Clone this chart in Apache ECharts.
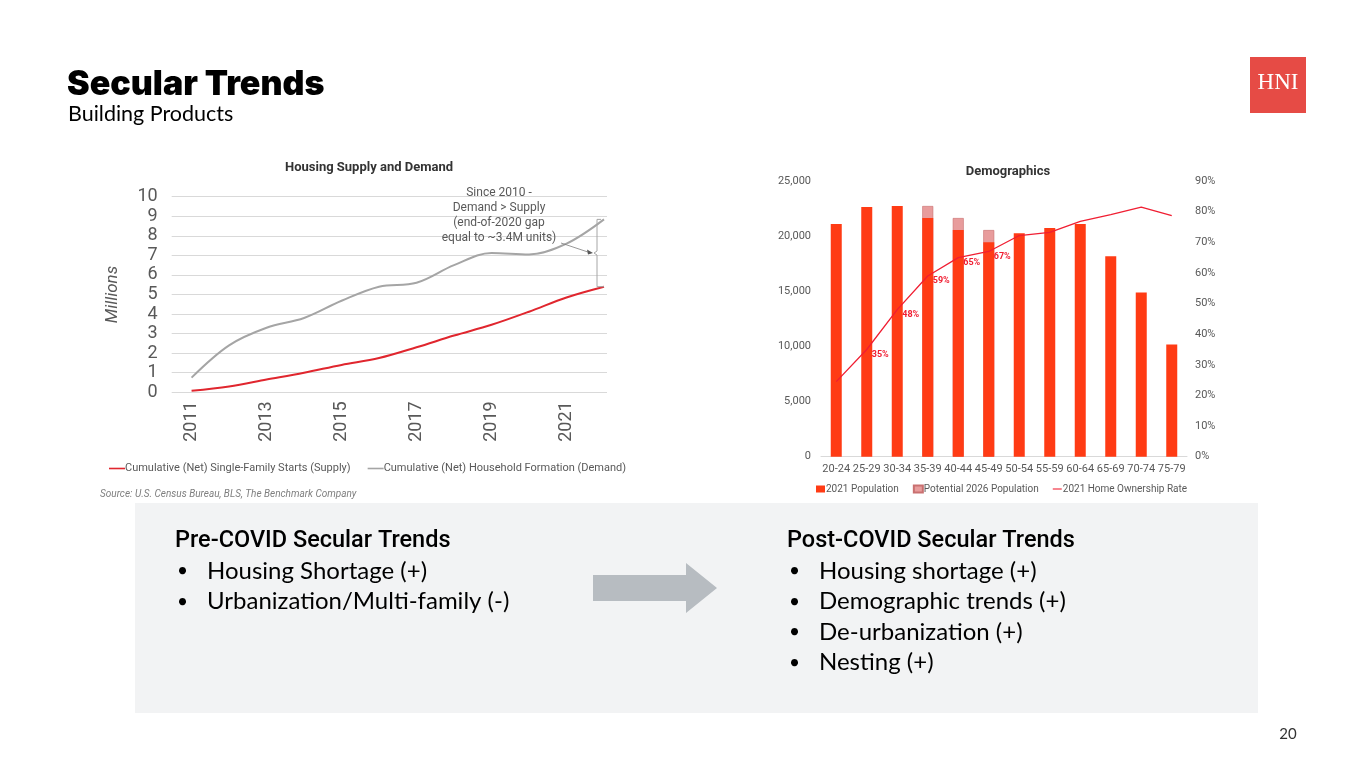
<!DOCTYPE html>
<html><head><meta charset="utf-8">
<script src="https://cdn.jsdelivr.net/npm/echarts@6/dist/echarts.min.js"></script>
<style>html,body{margin:0;padding:0;background:#fff}#c{width:1365px;height:768px}</style>
</head><body><div id="c"></div>
<script>
// ---- Housing Supply and Demand (millions, cumulative since 2010) ----
const years = [2011, 2012, 2013, 2014, 2015, 2016, 2017, 2018, 2019, 2020, 2021, 2022];
const supplyStarts = [0.08, 0.30, 0.65, 1.00, 1.40, 1.75, 2.30, 2.90, 3.45, 4.12, 4.85, 5.40];
const demandHouseholds = [0.75, 2.40, 3.30, 3.80, 4.68, 5.40, 5.60, 6.50, 7.12, 7.05, 7.60, 8.84];
const yearTickLabels = [2011, 2013, 2015, 2017, 2019, 2021];
const millionTicks = [0, 10, 1];

// ---- Demographics ----
const ageGroups = ['20-24', '25-29', '30-34', '35-39', '40-44', '45-49', '50-54', '55-59', '60-64', '65-69', '70-74', '75-79'];
const population2021 = [21100, 22650, 22730, 21640, 20550, 19450, 20270, 20730, 21100, 18180, 14900, 10180];
const potential2026 = [null, null, null, 22730, 21640, 20550, null, null, null, null, null, null];
const ownershipRate2021 = [0.245, 0.35, 0.48, 0.59, 0.65, 0.67, 0.722, 0.732, 0.768, 0.79, 0.815, 0.787];
const labeledRateGroups = ['25-29', '30-34', '35-39', '40-44', '45-49'];
const populationTicks = [0, 25000, 5000];
const rateTicks = [0, 0.9, 0.1];

const chart = echarts.init(document.getElementById('c'), null, { renderer: 'canvas' });
const GRAY = '#595959';
const F = 'Roboto, "Liberation Sans", sans-serif';
const LINE_ICON = 'path://M0,0 L16,0 L16,1.6 L0,1.6 Z';

const demandPts = years.map((y, i) => [y, demandHouseholds[i]]);
const supplyPts = years.map((y, i) => [y, supplyStarts[i]]);
const rateData = ownershipRate2021.map((v, i) => ({
  value: v,
  label: { show: labeledRateGroups.includes(ageGroups[i]) }
}));

chart.setOption({
  animation: false,
  textStyle: { fontFamily: F },
  title: [
    { text: 'Housing Supply and Demand', left: 364, top: 156, textAlign: 'center',
      textStyle: { fontSize: 13, fontWeight: 'bold', color: '#333', fontFamily: F } },
    { text: 'Demographics', left: 1003, top: 160, textAlign: 'center',
      textStyle: { fontSize: 13, fontWeight: 'bold', color: '#333', fontFamily: F } }
  ],
  legend: [
    { left: 104, top: 458, itemWidth: 16, itemHeight: 10, itemGap: 17, symbolKeepAspect: true,
      textStyle: { fontSize: 11, color: GRAY, padding: [0, 0, 0, -5] },
      data: [{ name: 'Cumulative (Net) Single-Family Starts (Supply)', icon: LINE_ICON },
             { name: 'Cumulative (Net) Household Formation (Demand)', icon: LINE_ICON }] },
    { left: 811, top: 479, itemWidth: 9, itemHeight: 7, itemGap: 14, symbolKeepAspect: true,
      textStyle: { fontSize: 10, color: GRAY, padding: [0, 0, 0, -4] },
      data: [{ name: '2021 Population', icon: 'rect' }, { name: 'Potential 2026 Population', icon: 'rect' },
             { name: '2021 Home Ownership Rate', icon: 'path://M0,0 L10,0 L10,1.2 L0,1.2 Z' }] }
  ],
  grid: [
    { left: 171.7, right: 1365 - 607, top: 196.7, bottom: 768 - 392.3 },
    { left: 821, right: 1365 - 1187, top: 181, bottom: 768 - 456.7 }
  ],
  xAxis: [
    { gridIndex: 0, type: 'value', min: 2010.47, max: 2022.08,
      axisLine: { show: false }, axisTick: { show: false }, splitLine: { show: false },
      axisLabel: { customValues: yearTickLabels, rotate: 90, margin: 9, fontSize: 18, color: GRAY, formatter: v => String(v) } },
    { gridIndex: 1, type: 'category', data: ageGroups,
      axisLine: { lineStyle: { color: '#d9d9d9' } }, axisTick: { show: false },
      axisLabel: { fontSize: 11, color: GRAY, margin: 7, interval: 0 } }
  ],
  yAxis: [
    { gridIndex: 0, type: 'value', min: millionTicks[0], max: millionTicks[1], interval: millionTicks[2],
      axisLine: { show: false }, axisTick: { show: false },
      splitLine: { lineStyle: { color: '#d9d9d9', width: 1 } },
      axisLabel: { fontSize: 18, color: GRAY, margin: 14 },
      name: 'Millions', nameLocation: 'middle', nameGap: 50, nameRotate: 90,
      nameTextStyle: { fontSize: 17, color: GRAY, fontStyle: 'italic' } },
    { gridIndex: 1, type: 'value', min: populationTicks[0], max: populationTicks[1], interval: populationTicks[2],
      axisLine: { show: false }, axisTick: { show: false }, splitLine: { show: false },
      axisLabel: { fontSize: 11, color: GRAY, margin: 10, formatter: v => v.toLocaleString('en-US') } },
    { gridIndex: 1, type: 'value', position: 'right', min: rateTicks[0], max: rateTicks[1], interval: rateTicks[2],
      axisLine: { show: false }, axisTick: { show: false }, splitLine: { show: false },
      axisLabel: { fontSize: 11, color: GRAY, margin: 8, formatter: v => Math.round(v * 100) + '%' } }
  ],
  series: [
    { name: 'Cumulative (Net) Single-Family Starts (Supply)', type: 'line', xAxisIndex: 0, yAxisIndex: 0,
      data: supplyPts, smooth: 0.35, symbol: 'none', lineStyle: { color: '#E0262E', width: 2 }, itemStyle: { color: '#E0262E' }, z: 3 },
    { name: 'Cumulative (Net) Household Formation (Demand)', type: 'line', xAxisIndex: 0, yAxisIndex: 0,
      data: demandPts, smooth: 0.35, symbol: 'none', lineStyle: { color: '#A5A5A5', width: 2 }, itemStyle: { color: '#A5A5A5' }, z: 2 },
    { name: 'Potential 2026 Population', type: 'bar', xAxisIndex: 1, yAxisIndex: 1, data: potential2026,
      barWidth: 11, barGap: '-100%', itemStyle: { color: '#E89C9C', borderColor: '#C97070', borderWidth: 0.6 } },
    { name: '2021 Population', type: 'bar', xAxisIndex: 1, yAxisIndex: 1, data: population2021,
      barWidth: 11, barGap: '-100%', itemStyle: { color: '#FF3B14' } },
    { name: '2021 Home Ownership Rate', type: 'line', xAxisIndex: 1, yAxisIndex: 2, data: rateData,
      symbol: 'circle', symbolSize: 0.01, showSymbol: true,
      lineStyle: { color: '#F01E32', width: 1.3 }, itemStyle: { color: '#F01E32' }, z: 5,
      label: { position: 'right', offset: [0, 5], fontSize: 9, fontWeight: 'bold', color: '#F01E32',
        formatter: p => Math.round(p.value * 100) + '%' } }
  ]
});

// ---- annotation bracket, computed from data positions ----
const last = years.length - 1;
const pTop = chart.convertToPixel({ xAxisIndex: 0, yAxisIndex: 0 }, [years[last], demandHouseholds[last]]);
const pBot = chart.convertToPixel({ xAxisIndex: 0, yAxisIndex: 0 }, [years[last], supplyStarts[last]]);
const bx = pTop[0] - 7;
const midY = pTop[1] + (pBot[1] - pTop[1]) * 0.5;

const BODY = 'Lato, sans-serif';
const graphics = [
  // slide title
  { type: 'text', x: 67, y: 85, z: 100, style: { text: 'Secular Trends', fontFamily: 'Inter, Roboto, sans-serif', fontWeight: 900, fontSize: 34, fill: '#000', verticalAlign: 'middle' } },
  { type: 'text', x: 68, y: 114, z: 100, style: { text: 'Building Products', fontFamily: BODY, fontSize: 21.5, fill: '#000', verticalAlign: 'middle' } },
  // logo
  { type: 'rect', shape: { x: 1250, y: 57, width: 56, height: 56 }, style: { fill: '#E64B45' }, z: 100 },
  { type: 'text', x: 1278, y: 83, z: 101, style: { text: 'HNI', fontFamily: '"Liberation Serif", serif', fontSize: 23, fill: '#fff', align: 'center', verticalAlign: 'middle' } },
  // source
  { type: 'text', x: 100, y: 494, z: 100, style: { text: 'Source: U.S. Census Bureau, BLS, The Benchmark Company', fontFamily: F, fontStyle: 'italic', fontSize: 10, fill: '#7f7f7f', verticalAlign: 'middle' } },
  // annotation text
  { type: 'text', x: 499, y: 185, z: 100, style: { text: 'Since 2010 -\nDemand > Supply\n(end-of-2020 gap\nequal to ~3.4M units)', fontFamily: F, fontSize: 12, lineHeight: 15, fill: GRAY, align: 'center', verticalAlign: 'top' } },
  // bracket
  { type: 'polyline', z: 100, shape: { points: [[bx + 4, pTop[1]], [bx, pTop[1]], [bx, midY - 2], [bx - 3, midY], [bx, midY + 2], [bx, pBot[1]], [pBot[0], pBot[1]]] },
    style: { stroke: '#a6a6a6', lineWidth: 1, fill: null } },
  // arrow from text to bracket
  { type: 'line', z: 100, shape: { x1: 561, y1: 243, x2: bx - 6, y2: midY }, style: { stroke: '#7f7f7f', lineWidth: 0.8 } },
  { type: 'polygon', z: 100, shape: { points: [[bx - 4, midY], [bx - 10, midY - 3.5], [bx - 9, midY + 1.5]] }, style: { fill: '#595959' } },
  // bottom panel
  { type: 'rect', shape: { x: 135, y: 503, width: 1123, height: 210 }, style: { fill: '#F2F3F4' }, z: 50 },
  { type: 'polygon', z: 100, shape: { points: [[593, 575], [686, 575], [686, 563], [717, 588], [686, 613], [686, 601], [593, 601]] }, style: { fill: '#B7BCC1' } },
  { type: 'text', x: 175, y: 541, z: 100, style: { text: 'Pre-COVID Secular Trends', fontFamily: 'Roboto, sans-serif', fontWeight: 500, fontSize: 23.5, fill: '#000', verticalAlign: 'middle' } },
  { type: 'text', x: 787, y: 541, z: 100, style: { text: 'Post-COVID Secular Trends', fontFamily: 'Roboto, sans-serif', fontWeight: 500, fontSize: 23.5, fill: '#000', verticalAlign: 'middle' } },
  { type: 'text', x: 1288, y: 734, z: 100, style: { text: '20', fontFamily: BODY, fontSize: 15, fill: '#333', align: 'center', verticalAlign: 'middle' } }
];
const preItems = ['Housing Shortage (+)', 'Urbanization/Multi-family (-)'];
const postItems = ['Housing shortage (+)', 'Demographic trends (+)', 'De-urbanization (+)', 'Nesting (+)'];
const addItems = (items, bulletX, textX) => items.forEach((t, i) => {
  const y = 571 + i * 30.5;
  graphics.push({ type: 'text', x: bulletX, y: y, z: 100, style: { text: '•', fontFamily: BODY, fontSize: 19, fill: '#000', verticalAlign: 'middle' } });
  graphics.push({ type: 'text', x: textX, y: y, z: 100, style: { text: t, fontFamily: BODY, fontSize: 24, fill: '#000', verticalAlign: 'middle' } });
});
addItems(preItems, 177, 207);
addItems(postItems, 789, 819);
chart.setOption({ graphic: graphics });
</script>
</body></html>
